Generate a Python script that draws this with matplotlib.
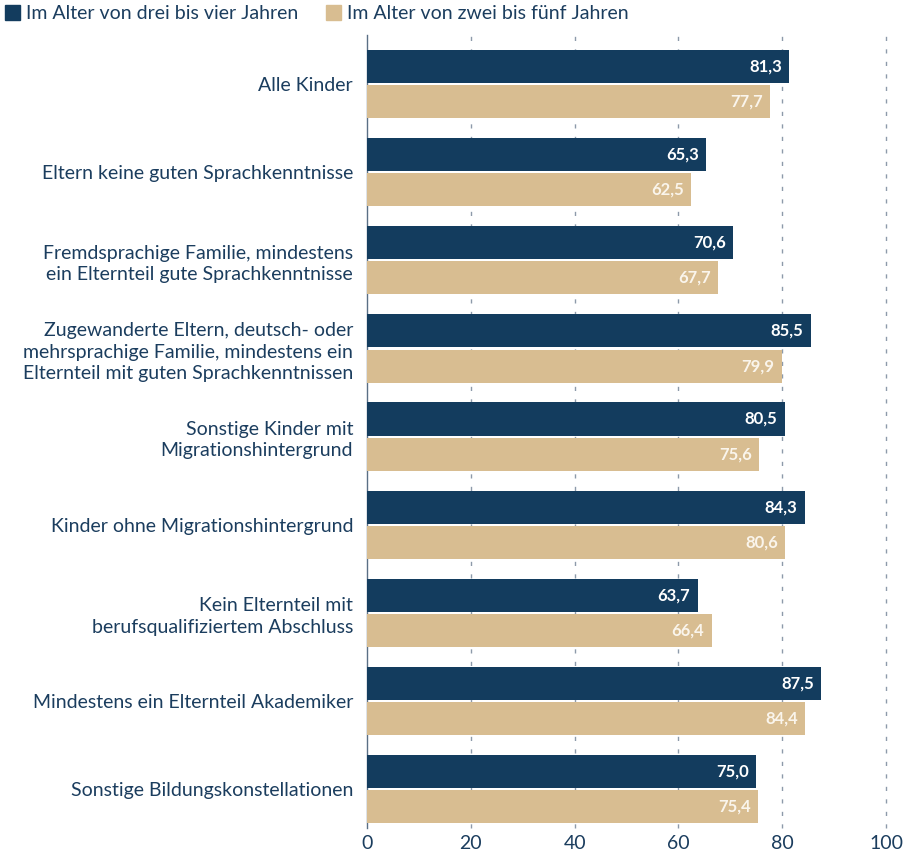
import matplotlib
matplotlib.use("Agg")
import matplotlib.pyplot as plt
from matplotlib.patches import Patch
import numpy as np

plt.rcParams['font.family'] = ['Lato', 'DejaVu Sans']

categories = [
    "Alle Kinder",
    "Eltern keine guten Sprachkenntnisse",
    "Fremdsprachige Familie, mindestens\nein Elternteil gute Sprachkenntnisse",
    "Zugewanderte Eltern, deutsch- oder\nmehrsprachige Familie, mindestens ein\nElternteil mit guten Sprachkenntnissen",
    "Sonstige Kinder mit\nMigrationshintergrund",
    "Kinder ohne Migrationshintergrund",
    "Kein Elternteil mit\nberufsqualifiziertem Abschluss",
    "Mindestens ein Elternteil Akademiker",
    "Sonstige Bildungskonstellationen",
]
series_names = ["Im Alter von drei bis vier Jahren", "Im Alter von zwei bis fünf Jahren"]
vals_3_4 = [81.3, 65.3, 70.6, 85.5, 80.5, 84.3, 63.7, 87.5, 75.0]
vals_2_5 = [77.7, 62.5, 67.7, 79.9, 75.6, 80.6, 66.4, 84.4, 75.4]
xticks = [0, 20, 40, 60, 80, 100]

dark = "#133c5e"
tan = "#d8bd91"
txt = "#1b3d5e"

fig = plt.figure(figsize=(9.10, 8.57), dpi=100)
ax = fig.add_axes([367/910, 1-828/857, (886-367)/910, (828-35)/857])

y = np.arange(len(categories))
h = 0.375
off = 0.2
ax.barh(y - off, vals_3_4, height=h, color=dark, zorder=3)
ax.barh(y + off, vals_2_5, height=h, color=tan, zorder=3)

def fmt(v):
    return f"{v:.1f}".replace(".", ",")

for yi, v in zip(y - off, vals_3_4):
    ax.text(v - 1.4, yi, fmt(v), ha="right", va="center", color="white",
            fontsize=12, fontweight="bold", zorder=4)
for yi, v in zip(y + off, vals_2_5):
    ax.text(v - 1.4, yi, fmt(v), ha="right", va="center", color="#faf5ec",
            fontsize=12, fontweight="bold", zorder=4)

ax.set_xlim(0, 100)
ax.set_ylim(8 + 0.44, -0.556)
ax.set_xticks(xticks)
ax.set_xticklabels([str(t) for t in xticks], fontsize=14, color=txt)
ax.set_yticks(y)
ax.set_yticklabels(categories, fontsize=14, color=txt, linespacing=1.3)
ax.tick_params(axis="y", length=0, pad=10)
ax.tick_params(axis="x", length=0, pad=5)

for s in ["top", "right", "bottom"]:
    ax.spines[s].set_visible(False)
ax.spines["left"].set_color("#5a6f85")
ax.spines["left"].set_linewidth(1.0)

for t in xticks[1:]:
    ax.axvline(t, color="#8d9aaa", linestyle=(0, (3, 6)), linewidth=1.0, zorder=1,
               clip_on=False)

handles = [Patch(color=dark), Patch(color=tan)]
fig.legend(handles, series_names, loc="upper left", bbox_to_anchor=(0.0, 1.0),
           ncol=2, frameon=False, fontsize=14, labelcolor=txt,
           handlelength=0.8, handleheight=0.8, handletextpad=0.3,
           columnspacing=1.4, borderaxespad=0.1, borderpad=0.15)

fig.savefig("out.png", dpi=100)
